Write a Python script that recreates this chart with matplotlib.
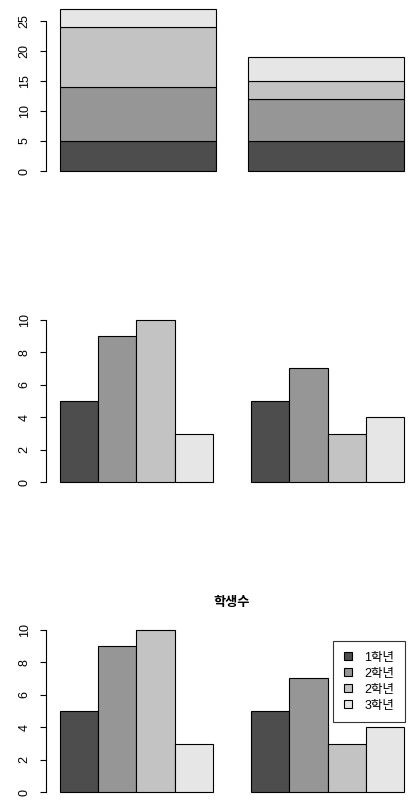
import matplotlib
matplotlib.use("Agg")
import matplotlib.pyplot as plt
import numpy as np
from matplotlib.patches import Patch

plt.rcParams['font.family'] = ['Liberation Sans', 'Noto Sans CJK KR', 'DejaVu Sans']

grades = ['1학년', '2학년', '2학년', '3학년']
class_a = [5, 9, 10, 3]
class_b = [5, 7, 3, 4]
colors = ['#4D4D4D', '#969696', '#C3C3C3', '#E6E6E6']
title = '학생수'

W, H = 414, 810
fig = plt.figure(figsize=(W / 100, H / 100), dpi=100)

def add_ax(left, bottom_px, width, height):
    return fig.add_axes([left / W, (H - bottom_px) / H, width / W, height / H])

def style_axis(ax, ticks):
    for s in ['top', 'right', 'bottom']:
        ax.spines[s].set_visible(False)
    ax.spines['left'].set_bounds(ticks[0], ticks[-1])
    ax.spines['left'].set_linewidth(0.8)
    ax.set_yticks(ticks)
    ax.set_xticks([])
    ax.tick_params(axis='y', length=4.5, width=0.8, pad=6.5, labelsize=9, labelrotation=90)
    for lab in ax.get_yticklabels():
        lab.set_va('center')

# Panel 1: stacked
ax1 = add_ax(46, 177.5, 372, 175)
data = np.array([class_a, class_b]).T
xs1 = [0.7, 1.9]
bottom = np.zeros(2)
for i in range(4):
    ax1.bar(xs1, data[i], width=1.0, bottom=bottom, color=colors[i], edgecolor='black', linewidth=0.8)
    bottom += data[i]
ax1.set_xlim(0.112, 2.488)
ax1.set_ylim(-1.08, 28.08)
style_axis(ax1, [0, 5, 10, 15, 20, 25])

def beside(ax):
    for g, vals in enumerate([class_a, class_b]):
        xs = np.arange(4) + 0.5 + g * 5
        ax.bar(xs, vals, width=1.0, color=colors, edgecolor='black', linewidth=0.8)
    ax.set_xlim(-0.36, 9.36)
    ax.set_ylim(-0.4, 10.4)
    style_axis(ax, [0, 2, 4, 6, 8, 10])

ax2 = add_ax(46, 488.8, 372, 175.6)
beside(ax2)

ax3 = add_ax(46, 798.8, 372, 175.6)
beside(ax3)
fig.text(232 / W, 1 - 602 / H, title, ha='center', va='center', fontsize=9.5,
         fontweight='bold', family=['Noto Sans CJK KR'])

handles = [Patch(facecolor=c, edgecolor='black', linewidth=0.8) for c in colors]
leg = ax3.legend(handles, grades, loc='upper right',
                 bbox_to_anchor=(405 / W, 1 - 641 / H), bbox_transform=fig.transFigure,
                 frameon=True, fancybox=False, borderaxespad=0,
                 handlelength=0.65, handleheight=0.65, handletextpad=1.0,
                 labelspacing=0.32, borderpad=0.85,
                 prop={'family': ['Liberation Sans', 'Noto Sans CJK KR'], 'size': 9})
leg.get_frame().set_edgecolor('black')
leg.get_frame().set_linewidth(0.8)

fig.savefig('out.png', dpi=100)
